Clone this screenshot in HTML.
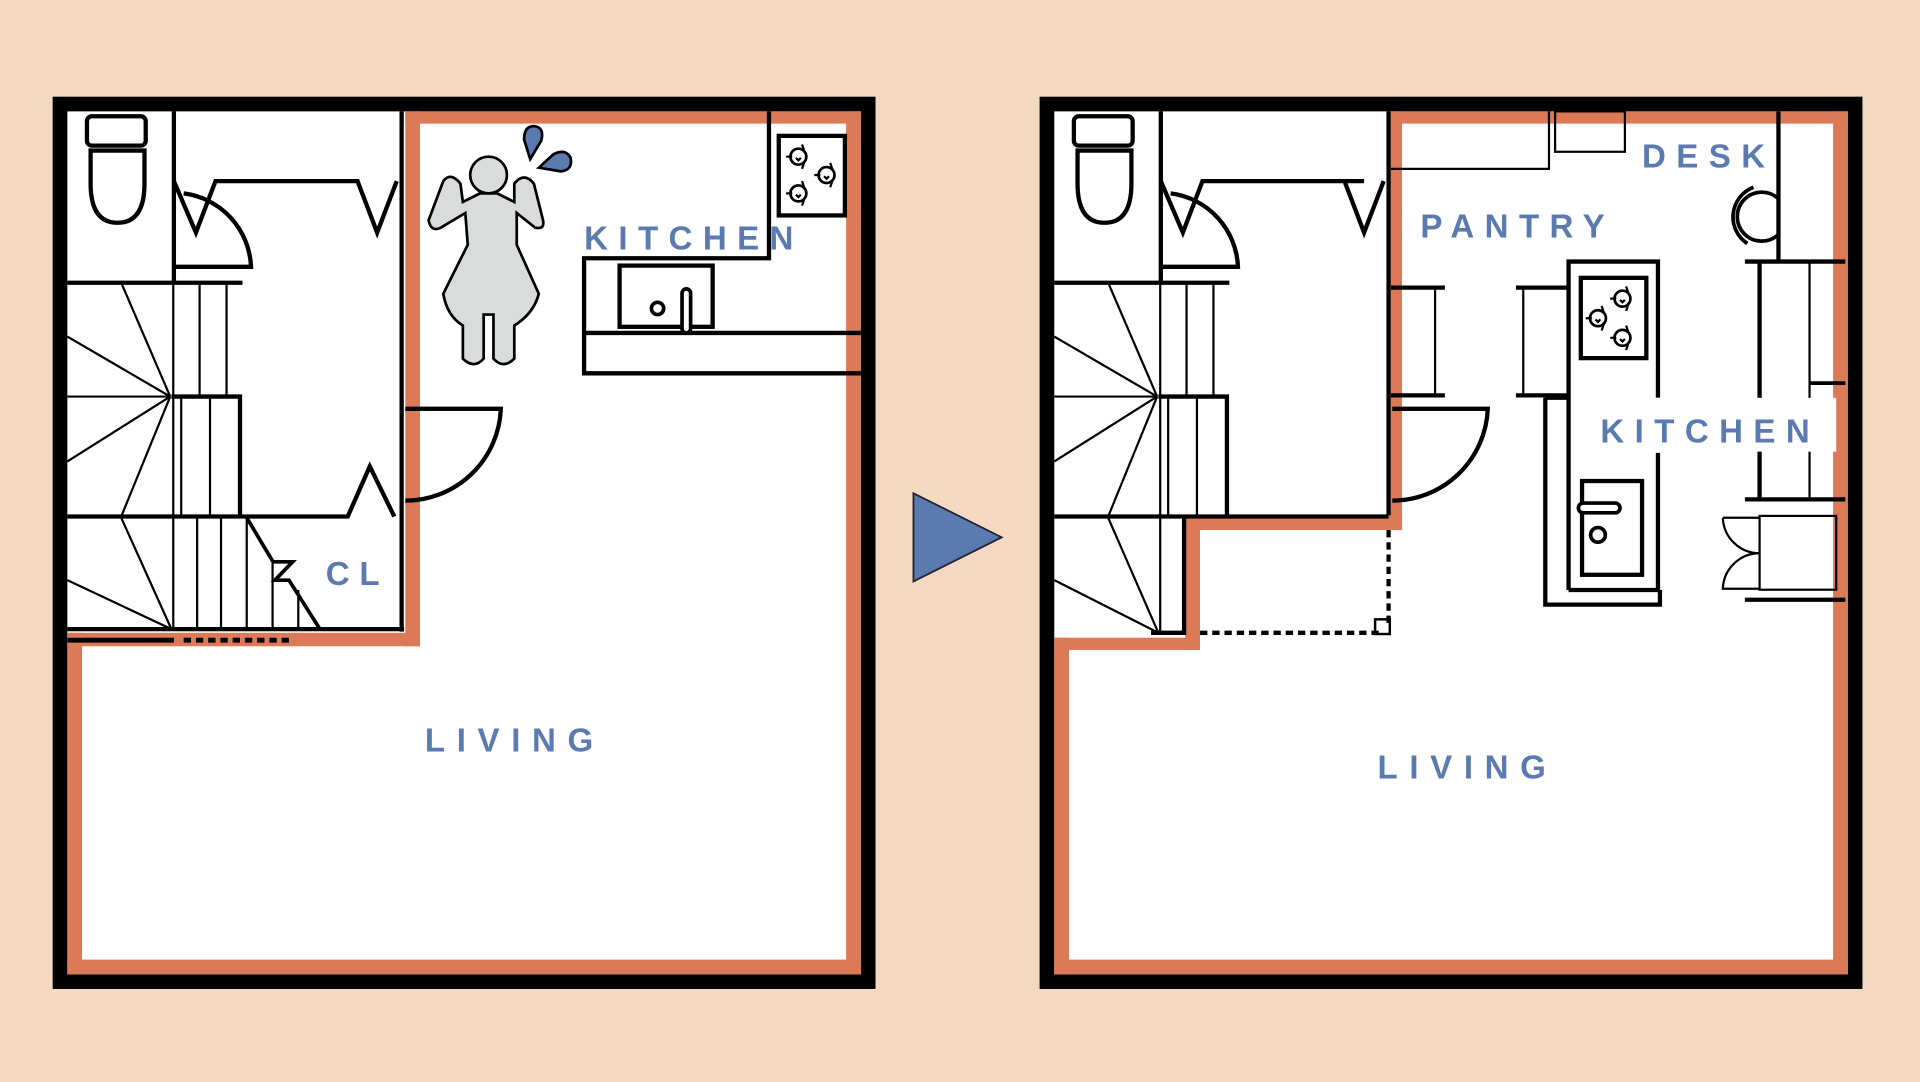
<!DOCTYPE html>
<html><head><meta charset="utf-8"><style>
html,body{margin:0;padding:0;background:#f3d9c1;}
svg{display:block;}
text{font-family:"Liberation Sans",sans-serif;font-weight:bold;fill:#5a7ab0;}
</style></head><body>
<svg width="1920" height="1082" viewBox="0 0 1568 884" preserveAspectRatio="none" xmlns="http://www.w3.org/2000/svg">
<defs>
<g id="burner" fill="none" stroke="#000" stroke-width="2.2">
<circle r="6.5" fill="#fff"/>
<path d="M-10 0H-5M3 -10L5 -4M3 10L5 4M-2 1L0 3L2 1" stroke-width="1.8"/>
</g>
<g id="toilet" fill="#fff" stroke="#000" stroke-width="3.5">
<rect x="71" y="95" width="48" height="24" rx="4"/>
<path d="M74 123 H118 V150 Q118 182 96 182 Q74 182 74 150 Z"/>
</g>
</defs>
<rect width="1568" height="884" fill="#f3d9c1"/>

<!-- ============ LEFT PLAN ============ -->
<rect x="43" y="79" width="672" height="729" fill="#000"/>
<rect x="55" y="91" width="648" height="705" fill="#fff"/>
<!-- orange -->
<path d="M331 91 H703 V796 H55 V517 H343 V101 H691 V784 H67 V528 H331 Z" fill="none"/>
<rect x="331" y="91" width="372" height="10" fill="#dc7a58"/>
<rect x="331" y="91" width="12" height="437" fill="#dc7a58"/>
<rect x="691" y="91" width="12" height="705" fill="#dc7a58"/>
<rect x="55" y="784" width="648" height="12" fill="#dc7a58"/>
<rect x="55" y="517" width="288" height="11" fill="#dc7a58"/>
<rect x="55" y="517" width="12" height="279" fill="#dc7a58"/>

<g fill="none" stroke="#000" stroke-linejoin="miter">
<use href="#toilet"/>
<!-- walls -->
<path d="M142 91 V230 M55 231 H198 M328 91 V516" stroke-width="3.5"/>
<path d="M55 514 H330" stroke-width="3.5"/>
<path d="M142 148 L160 190 L176 148 H292 L308 190 L324 148" stroke-width="3.5"/>
<path d="M142 218 H205 A63 63 0 0 0 150 158" stroke-width="3.5"/>
<!-- stairs -->
<path d="M141.5 231 V514 M163 231 V324 M185 231 V324 M148 324 V422 M171.5 324 V422 M161 422 V514 M180.5 422 V514 M201.5 422 V514 M222.6 459 V514 M243.6 482 V514" stroke-width="1.8"/>
<path d="M139 324 L99 231 M139 324 L55 275 M139 324 L55 377 M139 324 L99 422 M140 514 L99 423 M140 514 L55 474 M55 324 H139" stroke-width="1.8"/>
<path d="M140 324 H196 V422" stroke-width="3.5"/>
<path d="M55 422 H284 L302 381 L322 422" stroke-width="3.5"/>
<path d="M201.5 423 L223 459 H239 L224.5 474 H236 L261.3 514" stroke-width="3"/>
<path d="M55 523 H142" stroke-width="4"/>
<path d="M150 523 H240" stroke-width="4" stroke-dasharray="6 4"/>
<!-- door -->
<path d="M331 334 H409 A78 78 0 0 1 331 409" stroke-width="3.5"/>
<!-- kitchen -->
<path d="M628 91 V211 H477 V305 H703 M477 272 H703" stroke-width="3.5"/>
<rect x="506" y="217" width="76" height="50" stroke-width="3.5" fill="#fff"/>
<circle cx="537" cy="252" r="5" stroke-width="3"/>
<rect x="557" y="236" width="7" height="36" rx="3.5" stroke-width="3" fill="#fff"/>
<rect x="636" y="111" width="54" height="65" stroke-width="3.5"/>
</g>
<use href="#burner" x="652" y="128"/>
<use href="#burner" x="675" y="143"/>
<use href="#burner" x="652" y="158"/>
<!-- figure -->
<path d="M392 158 L378 165 L376 150 Q368 140 362 148 L350 180 Q352 190 360 186 L380 174 L382 200 L362 240 Q365 258 378 266 L378 293 Q387 302 395 293 L395 257 L403 257 L403 293 Q411 302 420 293 L420 266 Q436 256 440 240 L422 200 L422 174 L437 186 Q446 188 443 178 L436 150 Q428 140 420 150 L420 165 L406 158 Z" fill="#d9dcdb" stroke="#000" stroke-width="2.2"/>
<circle cx="399" cy="143" r="15" fill="#d9dcdb" stroke="#000" stroke-width="2.2"/>
<path d="M433 130 L428 114 Q428 103 436 103 Q445 104 442 115 Z" fill="#5a7ab0" stroke="#000" stroke-width="2.2"/>
<path d="M440 137 L452 126 Q462 121 466 129 Q468 139 458 140 Z" fill="#5a7ab0" stroke="#000" stroke-width="2.2"/>
<text x="477" y="204" font-size="27" letter-spacing="8.5">KITCHEN</text>
<text x="266" y="478" font-size="27" letter-spacing="8">CL</text>
<text x="347" y="614" font-size="27" letter-spacing="9.5">LIVING</text>

<!-- arrow -->
<path d="M746 403 L818 439 L746 475 Z" fill="#5a7ab0" stroke="#223" stroke-width="1.5"/>

<!-- ============ RIGHT PLAN ============ -->
<rect x="849" y="79" width="672" height="729" fill="#000"/>
<rect x="861" y="91" width="648" height="705" fill="#fff"/>
<rect x="1135" y="91" width="374" height="10" fill="#dc7a58"/>
<rect x="1497" y="91" width="12" height="705" fill="#dc7a58"/>
<rect x="861" y="784" width="648" height="12" fill="#dc7a58"/>
<rect x="861" y="521" width="12" height="275" fill="#dc7a58"/>
<rect x="861" y="521" width="119" height="10" fill="#dc7a58"/>
<rect x="968" y="421" width="12" height="110" fill="#dc7a58"/>
<rect x="968" y="421" width="177" height="12" fill="#dc7a58"/>
<rect x="1135" y="91" width="10" height="342" fill="#dc7a58"/>

<g fill="none" stroke="#000">
<use href="#toilet" x="806"/>
<path d="M948 91 V230 M861 231 H1004 M1134 91 V421" stroke-width="3.5"/>
<path d="M948 148 L966 190 L982 148 H1098 L1114 148 L1114 148 M1098 148 L1114 190 L1130 148" stroke-width="3.5"/>
<path d="M948 218 H1011 A63 63 0 0 0 956 158" stroke-width="3.5"/>
<path d="M947.5 231 V517 M969 231 V324 M991 231 V324 M954 324 V422" stroke-width="1.8"/>
<path d="M977.5 324 V422" stroke-width="1.8"/>
<path d="M945 324 L905 231 M945 324 L861 275 M945 324 L861 377 M945 324 L905 422 M946 517 L905 423 M946 517 L861 474 M861 324 H945" stroke-width="1.8"/>
<path d="M946 324 H1002 V422" stroke-width="3.5"/>
<path d="M861 422 H1134" stroke-width="3.5"/>
<path d="M967 423 V517 H940" stroke-width="3.5"/>
<path d="M980 517 H1130 M1134 433 V512" stroke-width="3.5" stroke-dasharray="6 4"/>
<rect x="1123" y="506" width="12" height="12" stroke-width="2"/>
<path d="M1137 334 H1215 A78 78 0 0 1 1137 409" stroke-width="3.5"/>
<!-- pantry top -->
<path d="M1136 138 H1265 V91" stroke-width="1.8"/>
<rect x="1270" y="91" width="57" height="33" stroke-width="1.8"/>
<!-- pantry shelves -->
<path d="M1136 235 H1180 M1136 323 H1180 M1238 235 H1281 M1238 323 H1281" stroke-width="3.5"/>
<path d="M1172 235 V323 M1244 235 V323" stroke-width="1.8"/>
<!-- island -->
<path d="M1281 482 V213.7 H1354 V325 M1354 370 V482 H1281" stroke-width="3.5"/>
<path d="M1262 325 H1281 M1262 325 V494 H1355.6 V482" stroke-width="3.5"/>
<rect x="1291" y="227" width="53.5" height="65.6" stroke-width="3.5"/>
<rect x="1292" y="393" width="49" height="76.6" stroke-width="3.5"/>
<rect x="1289" y="411" width="34" height="8" rx="4" stroke-width="3" fill="#fff"/>
<circle cx="1305" cy="437" r="6" stroke-width="3"/>
<!-- desk & right cabinets -->
<path d="M1452.4 91 V213" stroke-width="3.5"/>
<path d="M1452 162 A20 20 0 1 0 1452 192 M1432 153 A26 26 0 0 0 1427 199" stroke-width="3"/>
<path d="M1425 213.7 H1507 M1437 213.7 V408 M1425 408 H1507 M1425 490 H1507" stroke-width="3.5"/>
<path d="M1477.8 213.7 V408 M1477 313 H1507" stroke-width="1.8"/>
<path d="M1477 313 H1507" stroke-width="3"/>
<rect x="1437" y="421.5" width="62.6" height="60.3" stroke-width="1.8"/>
<path d="M1407 423 H1437 M1407 423 A30 30 0 0 0 1437 452 A30 30 0 0 0 1407 481 H1437" stroke-width="1.8"/>
</g>
<use href="#burner" x="1325" y="244"/>
<use href="#burner" x="1305" y="260"/>
<use href="#burner" x="1325" y="276"/>
<rect x="1298" y="325" width="201.6" height="44" fill="#fff"/>
<text x="1307" y="361.5" font-size="27" letter-spacing="8.5">KITCHEN</text>
<text x="1341" y="137" font-size="27" letter-spacing="8.5">DESK</text>
<text x="1160" y="194" font-size="27" letter-spacing="8.5">PANTRY</text>
<text x="1125" y="636" font-size="27" letter-spacing="9.5">LIVING</text>
</svg>
</body></html>
